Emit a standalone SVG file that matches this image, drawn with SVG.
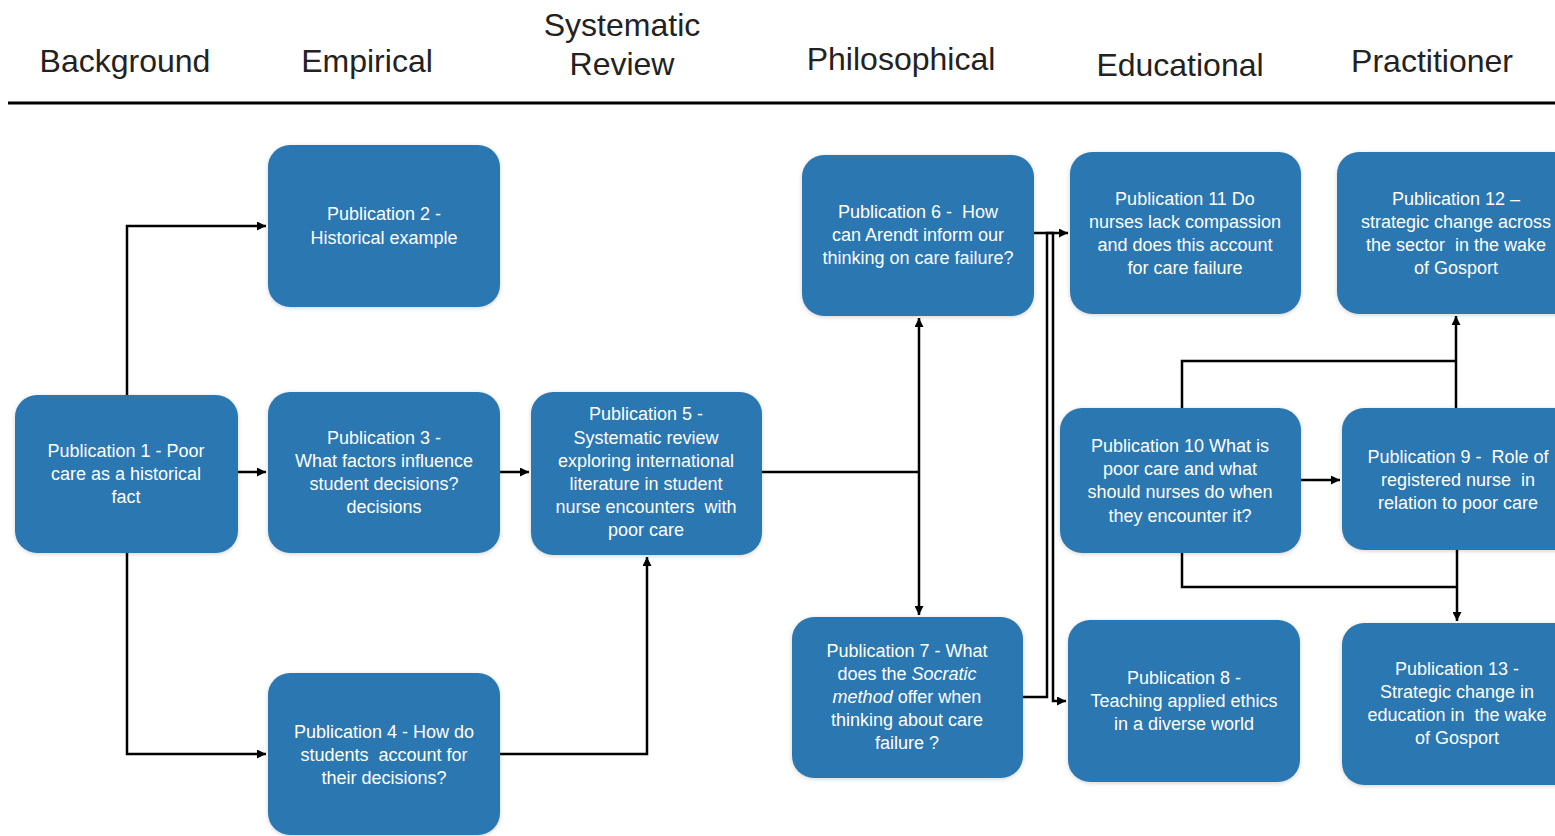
<svg xmlns="http://www.w3.org/2000/svg" width="1555" height="836" viewBox="0 0 1555 836">
<style>
.hdr{font-family:"Liberation Sans",Arial,sans-serif;font-size:32px;fill:#222222;text-anchor:middle}
.box{fill:#2c77b1}
.t{font-family:"Liberation Sans",Arial,sans-serif;font-size:18px;fill:#ffffff;text-anchor:middle;white-space:pre}
.c{fill:none;stroke:#000;stroke-width:2.5}
</style>
<defs>
<marker id="ah" viewBox="0 0 10 10" refX="10" refY="5" markerWidth="3.6" markerHeight="3.6" orient="auto" markerUnits="strokeWidth">
<path d="M0,0 L10,5 L0,10 z" fill="#000"/>
</marker>
<filter id="sh" x="-10%" y="-10%" width="120%" height="120%">
<feDropShadow dx="0" dy="1" stdDeviation="2" flood-color="#000" flood-opacity="0.18"/>
</filter>
</defs>
<rect width="1555" height="836" fill="#ffffff"/>
<g id="headers">
<text class="hdr" x="125" y="72">Background</text>
<text class="hdr" x="367" y="72">Empirical</text>
<text class="hdr" x="622" y="36">Systematic</text>
<text class="hdr" x="622" y="75">Review</text>
<text class="hdr" x="901" y="70">Philosophical</text>
<text class="hdr" x="1180" y="76">Educational</text>
<text class="hdr" x="1432" y="72">Practitioner</text>
<line x1="8" y1="103" x2="1555" y2="103" stroke="#000" stroke-width="3"/>
</g>
<g id="connectors">
<path class="c" d="M127,395 V226 H266" marker-end="url(#ah)"/>
<path class="c" d="M238,472 H266" marker-end="url(#ah)"/>
<path class="c" d="M127,553 V754 H266" marker-end="url(#ah)"/>
<path class="c" d="M500,472 H529" marker-end="url(#ah)"/>
<path class="c" d="M500,754 H647 V557" marker-end="url(#ah)"/>
<path class="c" d="M762,472 H919"/>
<path class="c" d="M919,472 V318" marker-end="url(#ah)"/>
<path class="c" d="M919,472 V615" marker-end="url(#ah)"/>
<path class="c" d="M1023,697 H1047 V233 H1068" marker-end="url(#ah)"/>
<path class="c" d="M1034,233 H1053 V701 H1066" marker-end="url(#ah)"/>
<path class="c" d="M1301,480 H1340" marker-end="url(#ah)"/>
<path class="c" d="M1182,408 V361 H1456"/>
<path class="c" d="M1456,408 V316" marker-end="url(#ah)"/>
<path class="c" d="M1182,553 V587 H1457"/>
<path class="c" d="M1457,550 V621" marker-end="url(#ah)"/>
</g>
<g id="p1">
<rect class="box" filter="url(#sh)" x="15" y="395" width="223" height="158" rx="22"/>
<text class="t" x="126" y="457">Publication 1 - Poor</text>
<text class="t" x="126" y="480">care as a historical</text>
<text class="t" x="126" y="503">fact</text>
</g>
<g id="p2">
<rect class="box" filter="url(#sh)" x="268" y="145" width="232" height="162" rx="22"/>
<text class="t" x="384" y="220">Publication 2 -</text>
<text class="t" x="384" y="244">Historical example</text>
</g>
<g id="p3">
<rect class="box" filter="url(#sh)" x="268" y="392" width="232" height="161" rx="22"/>
<text class="t" x="384" y="444">Publication 3 -</text>
<text class="t" x="384" y="467">What factors influence</text>
<text class="t" x="384" y="490">student decisions?</text>
<text class="t" x="384" y="513">decisions</text>
</g>
<g id="p4">
<rect class="box" filter="url(#sh)" x="268" y="673" width="232" height="162" rx="22"/>
<text class="t" x="384" y="738">Publication 4 - How do</text>
<text class="t" x="384" y="761">students  account for</text>
<text class="t" x="384" y="784">their decisions?</text>
</g>
<g id="p5">
<rect class="box" filter="url(#sh)" x="531" y="392" width="231" height="163" rx="22"/>
<text class="t" x="646" y="420">Publication 5 -</text>
<text class="t" x="646" y="444">Systematic review</text>
<text class="t" x="646" y="467">exploring international</text>
<text class="t" x="646" y="490">literature in student</text>
<text class="t" x="646" y="513">nurse encounters  with</text>
<text class="t" x="646" y="536">poor care</text>
</g>
<g id="p6">
<rect class="box" filter="url(#sh)" x="802" y="155" width="232" height="161" rx="22"/>
<text class="t" x="918" y="218">Publication 6 -  How</text>
<text class="t" x="918" y="241">can Arendt inform our</text>
<text class="t" x="918" y="264">thinking on care failure?</text>
</g>
<g id="p7">
<rect class="box" filter="url(#sh)" x="792" y="617" width="231" height="161" rx="22"/>
<text class="t" x="907" y="657">Publication 7 - What</text>
<text class="t" x="907" y="680">does the <tspan font-style="italic">Socratic</tspan></text>
<text class="t" x="907" y="703"><tspan font-style="italic">method</tspan> offer when</text>
<text class="t" x="907" y="726">thinking about care</text>
<text class="t" x="907" y="749">failure ?</text>
</g>
<g id="p11">
<rect class="box" filter="url(#sh)" x="1070" y="152" width="231" height="162" rx="22"/>
<text class="t" x="1185" y="205">Publication 11 Do</text>
<text class="t" x="1185" y="228">nurses lack compassion</text>
<text class="t" x="1185" y="251">and does this account</text>
<text class="t" x="1185" y="274">for care failure</text>
</g>
<g id="p10">
<rect class="box" filter="url(#sh)" x="1060" y="408" width="241" height="145" rx="22"/>
<text class="t" x="1180" y="452">Publication 10 What is</text>
<text class="t" x="1180" y="475">poor care and what</text>
<text class="t" x="1180" y="498">should nurses do when</text>
<text class="t" x="1180" y="522">they encounter it?</text>
</g>
<g id="p8">
<rect class="box" filter="url(#sh)" x="1068" y="620" width="232" height="162" rx="22"/>
<text class="t" x="1184" y="684">Publication 8 -</text>
<text class="t" x="1184" y="707">Teaching applied ethics</text>
<text class="t" x="1184" y="730">in a diverse world</text>
</g>
<g id="p12">
<rect class="box" filter="url(#sh)" x="1337" y="152" width="240" height="162" rx="22"/>
<text class="t" x="1456" y="205">Publication 12 –</text>
<text class="t" x="1456" y="228">strategic change across</text>
<text class="t" x="1456" y="251">the sector  in the wake</text>
<text class="t" x="1456" y="274">of Gosport</text>
</g>
<g id="p9">
<rect class="box" filter="url(#sh)" x="1342" y="408" width="240" height="142" rx="22"/>
<text class="t" x="1458" y="463">Publication 9 -  Role of</text>
<text class="t" x="1458" y="486">registered nurse  in</text>
<text class="t" x="1458" y="509">relation to poor care</text>
</g>
<g id="p13">
<rect class="box" filter="url(#sh)" x="1342" y="623" width="240" height="162" rx="22"/>
<text class="t" x="1457" y="675">Publication 13 -</text>
<text class="t" x="1457" y="698">Strategic change in</text>
<text class="t" x="1457" y="721">education in  the wake</text>
<text class="t" x="1457" y="744">of Gosport</text>
</g>
</svg>
